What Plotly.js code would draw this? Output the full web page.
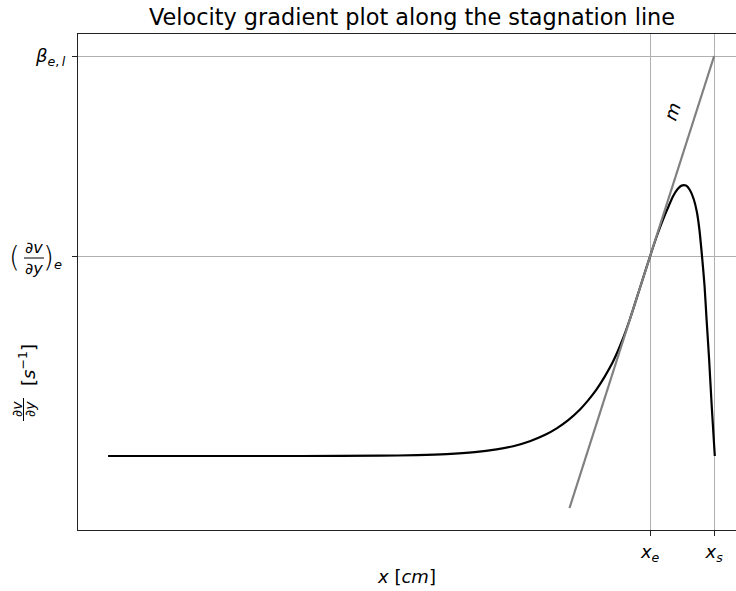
<!DOCTYPE html>
<html><head><meta charset="utf-8">
<script src="https://cdn.plot.ly/plotly-3.0.1.min.js"></script>
<style>html,body{margin:0;padding:0;background:#fff}</style>
</head><body><div id="chart" style="width:736px;height:591px"></div>
<script>
// ---- data (arbitrary units) ----
const curveX = [0.47, 2.0, 3.5, 4.72, 5.3, 5.76, 6.2, 6.54, 6.8, 7.06, 7.3, 7.48, 7.66, 7.84, 7.97, 8.10, 8.23, 8.36, 8.5, 8.63, 8.78, 8.94, 9.05, 9.15, 9.23, 9.30, 9.37, 9.43, 9.50, 9.56, 9.62, 9.67, 9.71, 9.75, 9.79, 9.82, 9.86, 9.90, 9.95];
const curveY = [0.0, 0.0, 0.0, 0.0015, 0.004, 0.009, 0.019, 0.033, 0.049, 0.074, 0.106, 0.138, 0.179, 0.231, 0.278, 0.332, 0.397, 0.472, 0.575, 0.69, 0.84, 1.0, 1.105, 1.19, 1.25, 1.30, 1.335, 1.352, 1.352, 1.33, 1.285, 1.22, 1.13, 1.0, 0.85, 0.69, 0.49, 0.26, 0.0];
const tangentX = [7.68, 9.94];
const tangentY = [-0.26, 2.0];
const xTickVals = [8.94, 9.94];
const xTickText = ['<i>x</i><sub><i>e</i></sub>', '<i>x</i><sub><i>s</i></sub>'];
const yTickVals = [1, 2];
const yTickText = [' ', '<i>β</i><sub><i>e</i>,\u2009<i>l</i></sub>'];
const slopeLabelX = 9.28;
const slopeLabelY = 1.725;
const slopeLabelText = '<i>m</i>';

// ---- layout helpers ----
const W = 736, H = 591, L = 78, R = 736, T = 34, B = 530;
const px = p => (p - L) / (R - L);
const py = p => (B - p) / (B - T);
const FONT = 'DejaVu Sans, sans-serif';

function ann(x, y, text, size, angle, weight) {
  return {xref: 'paper', yref: 'paper', x: px(x), y: py(y), text: text,
    showarrow: false, xanchor: 'center', yanchor: 'middle', borderpad: 0,
    textangle: angle || 0, font: {family: FONT, size: size, color: '#000', weight: weight || 'normal'}};
}
function seg(x0, y0, x1, y1) {
  return {type: 'line', xref: 'paper', yref: 'paper', x0: px(x0), y0: py(y0), x1: px(x1), y1: py(y1),
    line: {color: '#000', width: 1}};
}

const traces = [
  {x: curveX, y: curveY, type: 'scatter', mode: 'lines',
   line: {color: '#000', width: 2.2, shape: 'spline', smoothing: 0.6}, hoverinfo: 'skip'},
  {x: tangentX, y: tangentY, type: 'scatter', mode: 'lines',
   line: {color: '#808080', width: 2.2}, hoverinfo: 'skip'}
];

const layout = {
  width: W, height: H,
  margin: {l: L, r: W - R, t: T, b: H - B, pad: 0},
  paper_bgcolor: '#fff', plot_bgcolor: '#fff',
  showlegend: false,
  font: {family: FONT, size: 18, color: '#000'},
  title: {text: 'Velocity gradient plot along the stagnation line',
    font: {family: FONT, size: 22.4, color: '#000'},
    x: px(412), xref: 'paper', xanchor: 'center', y: 1 - 17 / H, yref: 'container', yanchor: 'middle'},
  xaxis: {range: [0, (R - L) / 64], tickvals: xTickVals, ticktext: xTickText,
    showgrid: true, gridcolor: '#b0b0b0', gridwidth: 1, zeroline: false,
    showline: true, linecolor: '#222', linewidth: 1.2, mirror: true,
    ticks: 'outside', ticklen: 5, tickwidth: 1, tickcolor: '#222',
    tickfont: {family: FONT, size: 18, color: '#000'},
    title: {text: '<i>x</i> [<i>cm</i>]', font: {family: FONT, size: 18, color: '#000'}, standoff: 6}},
  yaxis: {range: [-0.37, 2.11], tickvals: yTickVals, ticktext: yTickText,
    showgrid: true, gridcolor: '#b0b0b0', gridwidth: 1, zeroline: false,
    showline: true, linecolor: '#222', linewidth: 1.2, mirror: false,
    ticks: 'outside', ticklen: 5, tickwidth: 1, tickcolor: '#222', ticklabelstandoff: 3,
    tickfont: {family: FONT, size: 18, color: '#000'}},
  annotations: [
    // slope label m, rotated along the tangent line
    {xref: 'x', yref: 'y', x: slopeLabelX, y: slopeLabelY, text: slopeLabelText, showarrow: false,
     xanchor: 'center', yanchor: 'middle', textangle: -72, font: {family: FONT, size: 18, color: '#000'}},
    // (dv/dy)_e tick label
    ann(14, 257, '(', 28, 0, 200),
    ann(34, 248, '∂<i>v</i>', 16),
    ann(34, 268, '∂<i>y</i>', 16),
    ann(48, 257, ')', 28, 0, 200),
    ann(58, 264, '<i>e</i>', 13),
    // y axis title
    ann(27, 365, '[<i>s</i><sup>−1</sup>]', 18, -90),
    ann(17, 409, '∂<i>v</i>', 14, -90),
    ann(30, 409, '∂<i>y</i>', 14, -90)
  ],
  shapes: [
    seg(24, 258, 44, 258),
    seg(23.5, 398, 23.5, 421)
  ]
};

Plotly.newPlot('chart', traces, layout, {staticPlot: true, displayModeBar: false});
</script></body></html>
